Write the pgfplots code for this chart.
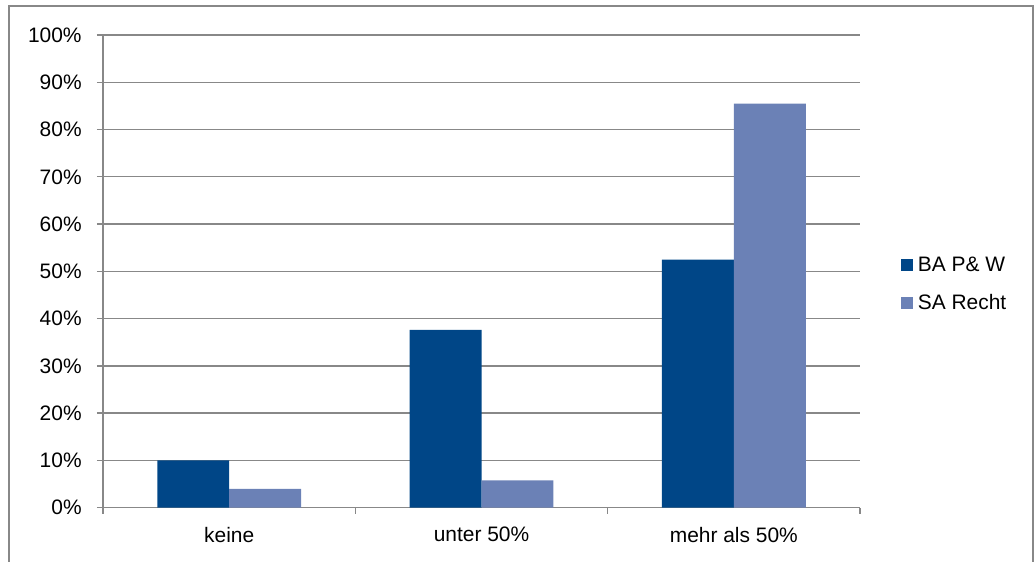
\documentclass[border=0pt]{standalone}
\usepackage{pgfplots}
\pgfplotsset{compat=1.18}
\usepackage{fontspec}
\setmainfont{Liberation Sans}
\definecolor{dkb}{RGB}{0,70,135}
\definecolor{ltb}{RGB}{107,129,182}
\definecolor{gr}{RGB}{136,136,136}
\begin{document}
\begin{tikzpicture}
\path[use as bounding box] (0,0) rectangle (776.25pt,420.75pt);
\draw[gr, line width=1.5pt] (6.9pt,-5pt) -- (6.9pt,416.5pt) -- (774.5pt,416.5pt) -- (774.5pt,-5pt);
\begin{axis}[
  at={(77.25pt,40pt)}, anchor=south west,
  width=567.75pt, height=354.5pt, scale only axis,
  xmin=-0.5, xmax=2.5, ymin=0, ymax=100,
  axis x line=bottom, axis y line=left,
  every non boxed x axis/.style={}, every non boxed y axis/.style={},
  axis line style={-, draw=gr, line width=1pt},
  ymajorgrids, grid style={gr, line width=1pt},
  ytick={0,10,...,100},
  yticklabels={0\%,10\%,20\%,30\%,40\%,50\%,60\%,70\%,80\%,90\%,100\%},
  xtick={0,1,2},
  xticklabels={keine, unter 50\%, mehr als 50\%},
  minor xtick={-0.5,0.5,1.5,2.5},
  tick align=outside,
  major tick length=4.5pt, minor tick length=4.5pt,
  tick style={gr, line width=1pt},
  major x tick style={draw=none},
  ticklabel style={font=\fontsize{15.7}{18}\selectfont, text=black},
  yticklabel style={xshift=-8pt},
  xticklabel style={yshift=-6.5pt},
  ybar, bar width=0.285,
  legend style={at={(axis description cs:1.054,0.473)}, anchor=west, draw=none, fill=none,
    font=\fontsize{15.7}{18}\selectfont, row sep=11.5pt, inner sep=0pt,
    nodes={inner xsep=3.5pt}},
  legend cell align=left,
  legend image code/.code={\fill[#1] (0pt,-4.5pt) rectangle (9pt,4.5pt);},
]
\addplot[fill=dkb, draw=none, bar shift=-0.1425] coordinates {(0,10) (1,37.6) (2,52.5)};
\addplot[fill=ltb, draw=none, bar shift=0.1425] coordinates {(0,4) (1,5.8) (2,85.5)};
\legend{BA P\& W, SA Recht}
\end{axis}
\end{tikzpicture}
\end{document}
